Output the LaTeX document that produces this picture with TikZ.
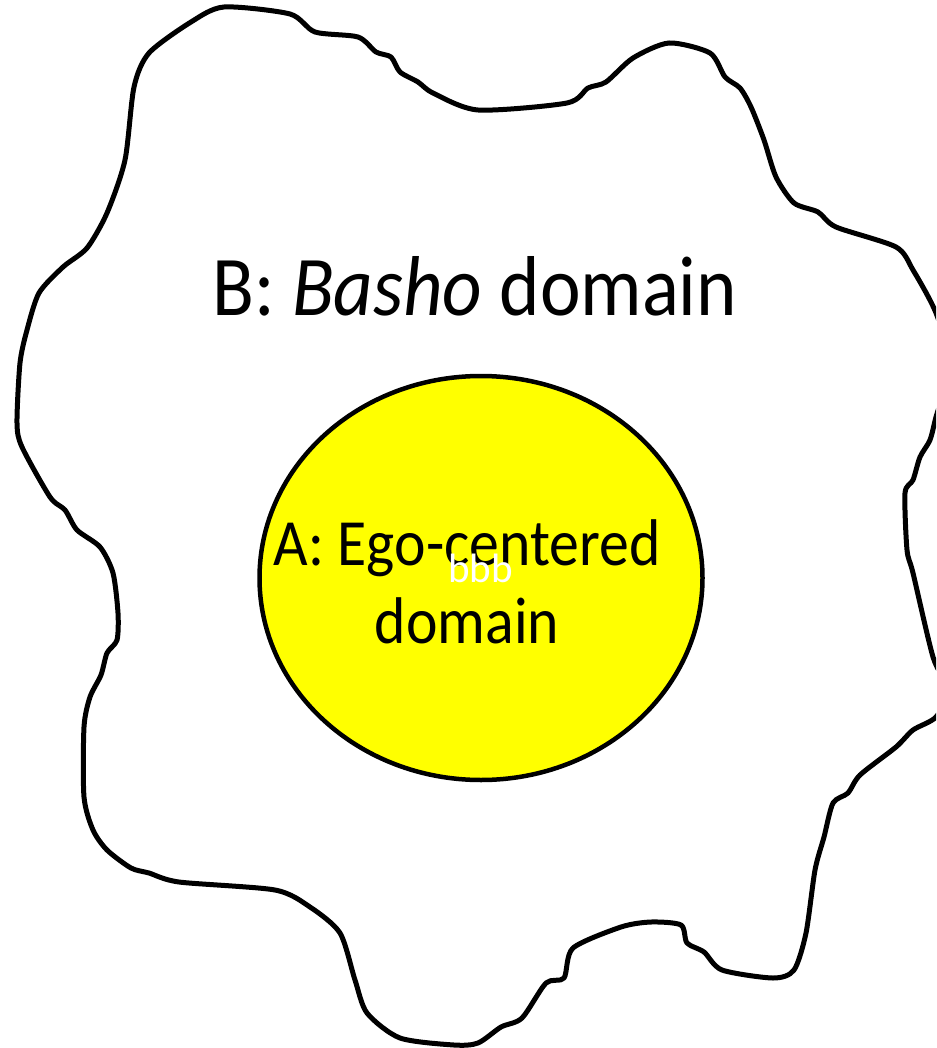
\documentclass[tikz,border=0pt]{standalone}
\usepackage{fontspec}
\setmainfont{Carlito}
\usetikzlibrary{shapes.geometric}
\definecolor{yolkc}{RGB}{255,255,0}
\tikzset{
  outline/.style={draw=black, line width=5pt, line join=round},
  yolk/.style={ellipse, draw=black, line width=4.5pt, fill=yolkc, inner sep=0pt},
  lbl/.style={anchor=base west, inner sep=0pt, text=black},
  squeeze/.style={xscale=0.905, transform shape},
}
\begin{document}
\begin{tikzpicture}[x=1pt, y=-1pt]
\useasboundingbox (0,0) rectangle (936,1048);
\fill[white] (0,0) rectangle (936,1048);
\begin{scope}
\clip (0,0) rectangle (936,1048);
\draw[outline] plot[smooth cycle, tension=0.45] coordinates {
(224,7) (290,14) (315,32) (358,37) (376,52) (391,57) (400,72) (418,82) (433,93) (478,110)
(567,103) (588,88) (606,82) (633,58) (669,43) (710,53) (725,77) (740,88) (751,107) (764,140)
(776,177) (794,203) (818,212) (836,227) (896,247) (913,270) (936,313) (950,365)
(936,417) (930,440) (920,457) (913,480) (905,493) (907,550) (913,573) (933,657) (948,690)
(936,717) (913,730) (896,747) (860,775) (848,793) (833,803) (824,837) (815,870) (806,933)
(794,970) (773,978) (722,970) (704,952) (687,943) (681,925) (651,922) (621,927) (573,948)
(564,978) (546,983) (522,1018) (501,1027) (478,1043) (454,1045) (400,1038) (367,1013)
(355,980) (340,933) (310,907) (275,890) (179,882) (149,873) (131,868) (107,850) (93,830)
(84,797) (84,727) (90,697) (101,675) (107,653) (117,640) (118,613) (113,573) (100,547)
(77,530) (65,510) (50,497) (22,447) (17,423) (20,363) (27,330) (39,293) (63,267) (87,248)
(107,213) (125,160) (134,87) (149,53) (191,22)
};
\end{scope}
\node[yolk, minimum width=443pt, minimum height=404pt] (A) at (481,578) {};
\node[lbl, squeeze, font=\fontsize{85}{100}\selectfont] (Blabel) at (212,316) {B: \textit{Basho} domain};
\node[lbl, squeeze, anchor=base, font=\fontsize{66}{78}\selectfont] (Aline1) at (467,565) {A: Ego-centered};
\node[lbl, squeeze, anchor=base, font=\fontsize{66}{78}\selectfont] (Aline2) at (467,643) {domain};
\node[lbl, text=white, font=\fontsize{41}{48}\selectfont] (bbb) at (448,582) {bbb};
\end{tikzpicture}
\end{document}
